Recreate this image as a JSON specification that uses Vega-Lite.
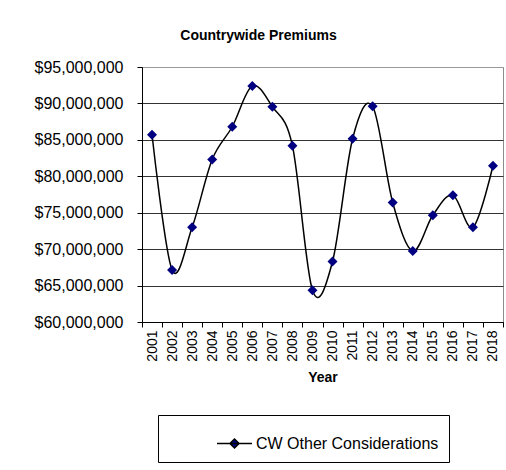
{
  "$schema": "https://vega.github.io/schema/vega-lite/v6.json",
  "width": 361,
  "height": 255,
  "autosize": {"type": "none"},
  "padding": {"left": 142, "top": 67, "right": 3, "bottom": 148},
  "background": "white",
  "title": {"text": "Countrywide Premiums", "fontSize": 14, "font": "Liberation Sans", "fontWeight": "bold", "anchor": "middle", "dx": -64, "offset": 5, "baseline": "alphabetic", "color": "black"},
  "data": {"values": [
    {"Year": "2001", "Premium": 85700000, "Series": "CW Other Considerations"},
    {"Year": "2002", "Premium": 67150000, "Series": "CW Other Considerations"},
    {"Year": "2003", "Premium": 73000000, "Series": "CW Other Considerations"},
    {"Year": "2004", "Premium": 82300000, "Series": "CW Other Considerations"},
    {"Year": "2005", "Premium": 86800000, "Series": "CW Other Considerations"},
    {"Year": "2006", "Premium": 92400000, "Series": "CW Other Considerations"},
    {"Year": "2007", "Premium": 89550000, "Series": "CW Other Considerations"},
    {"Year": "2008", "Premium": 84200000, "Series": "CW Other Considerations"},
    {"Year": "2009", "Premium": 64350000, "Series": "CW Other Considerations"},
    {"Year": "2010", "Premium": 68300000, "Series": "CW Other Considerations"},
    {"Year": "2011", "Premium": 85150000, "Series": "CW Other Considerations"},
    {"Year": "2012", "Premium": 89600000, "Series": "CW Other Considerations"},
    {"Year": "2013", "Premium": 76400000, "Series": "CW Other Considerations"},
    {"Year": "2014", "Premium": 69750000, "Series": "CW Other Considerations"},
    {"Year": "2015", "Premium": 74650000, "Series": "CW Other Considerations"},
    {"Year": "2016", "Premium": 77400000, "Series": "CW Other Considerations"},
    {"Year": "2017", "Premium": 73000000, "Series": "CW Other Considerations"},
    {"Year": "2018", "Premium": 81450000, "Series": "CW Other Considerations"}
  ]},
  "encoding": {
    "x": {
      "field": "Year", "type": "ordinal",
      "scale": {"type": "band", "paddingInner": 0, "paddingOuter": 0},
      "axis": {
        "title": "Year", "titleFontSize": 14, "titleFont": "Liberation Sans", "titleFontWeight": "bold", "titleColor": "black", "titlePadding": 9,
        "labelAngle": 270, "labelFontSize": 14, "labelFont": "Liberation Sans", "labelColor": "black", "labelPadding": 3,
        "tickBand": "extent", "tickSize": 5, "tickColor": "black", "domainColor": "black", "grid": false
      }
    },
    "y": {
      "field": "Premium", "type": "quantitative",
      "scale": {"domain": [60000000, 95000000], "nice": false, "zero": false},
      "axis": {
        "title": null,
        "values": [60000000, 65000000, 70000000, 75000000, 80000000, 85000000, 90000000, 95000000],
        "format": "$,.0f", "labelFontSize": 16, "labelFont": "Liberation Sans", "labelColor": "black", "labelPadding": 14,
        "tickSize": 5, "tickColor": "black", "domainColor": "black",
        "grid": true,
        "gridColor": {"condition": {"test": "datum.value === 95000000", "value": "#999999"}, "value": "#333333"},
        "gridWidth": 1
      }
    }
  },
  "layer": [
    {"mark": {"type": "line", "interpolate": "cardinal", "color": "black", "strokeWidth": 1.5}},
    {
      "mark": {"type": "point", "shape": "diamond", "filled": true, "size": 100, "opacity": 1},
      "encoding": {
        "color": {
          "field": "Series", "type": "nominal",
          "scale": {"range": ["#000080"]},
          "legend": {
            "title": null, "orient": "none", "legendX": 16, "legendY": 348,
            "strokeColor": "black", "fillColor": "white", "padding": 10,
            "labelFontSize": 16, "labelFont": "Liberation Sans", "labelColor": "black", "labelLimit": 500,
            "symbolType": "M-1,0L1,0M0,-0.26L0.26,0L0,0.26L-0.26,0Z",
            "symbolSize": 1225, "symbolOffset": 48, "labelOffset": 3,
            "symbolStrokeColor": "black", "symbolStrokeWidth": 1.5, "symbolFillColor": "#000080",
            "labelExpr": "datum.label + '\u00a0\u00a0\u00a0\u00a0\u00a0\u00a0\u00a0\u00a0'",
            "encode": {"symbols": {"update": {"size": {"value": 1225}, "stroke": {"value": "black"}, "strokeWidth": {"value": 1.5}, "fill": {"value": "#000080"}, "shape": {"value": "M-1,0L1,0M0,-0.26L0.26,0L0,0.26L-0.26,0Z"}, "opacity": {"value": 1}}}}
          }
        }
      }
    }
  ],
  "config": {"view": {"stroke": "#8c8c8c", "strokeWidth": 1}}
}
